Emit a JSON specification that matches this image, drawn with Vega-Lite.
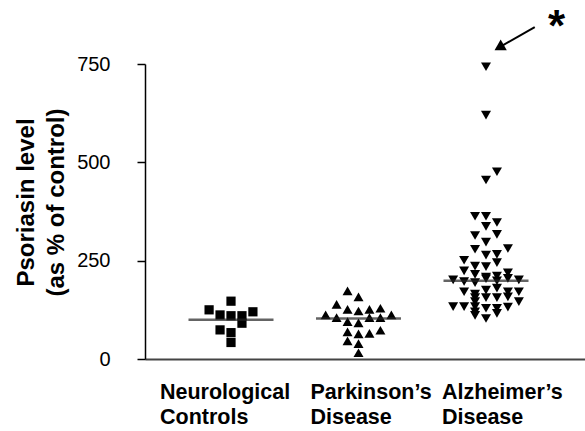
{
  "$schema": "https://vega.github.io/schema/vega-lite/v6.json",
  "width": 440,
  "height": 295,
  "autosize": {"type": "none"},
  "padding": {"left": 145, "top": 64, "right": 0, "bottom": 72},
  "config": {"font": "Liberation Sans", "view": {"stroke": null}},
  "encoding": {
    "x": {
      "field": "group", "type": "nominal", "title": null,
      "scale": {"domain": ["Neurological Controls", "Parkinson’s Disease", "Alzheimer’s Disease"], "paddingInner": 0, "paddingOuter": 0.2255, "align": 0.387},
      "axis": {
        "labelAngle": 0, "ticks": false, "domainColor": "#444444", "domainWidth": 2,
        "labelExpr": "split(datum.value, ' ')", "labelFontSize": 21.5, "labelFontWeight": "bold",
        "labelColor": "black", "labelAlign": "left", "labelBaseline": "top", "labelPadding": 22, "labelLineHeight": 25,
        "labelOffset": {"condition": [
          {"test": "datum.value === 'Neurological Controls'", "value": -71},
          {"test": "datum.value === 'Parkinson’s Disease'", "value": -48}
        ], "value": -44}
      }
    },
    "y": {
      "field": "value", "type": "quantitative", "title": ["Psoriasin level", "(as % of control)"],
      "scale": {"domain": [0, 750], "nice": false, "zero": true},
      "axis": {
        "values": [0, 250, 500, 750], "grid": false, "domainColor": "black", "domainWidth": 1.5,
        "tickColor": "black", "tickWidth": 1.5, "tickSize": 8, "labelFontSize": 20, "labelColor": "black",
        "labelPadding": 27, "titleFontSize": 24, "titleFontWeight": "bold", "titleColor": "black",
        "titlePadding": 8, "titleLineHeight": 30, "titleY": 138
      }
    }
  },
  "layer": [
    {
      "data": {"values": [
        {"group": "Neurological Controls", "value": 147, "col": 0},
        {"group": "Neurological Controls", "value": 125, "col": -2},
        {"group": "Neurological Controls", "value": 112, "col": -1},
        {"group": "Neurological Controls", "value": 110, "col": 0},
        {"group": "Neurological Controls", "value": 110, "col": 1},
        {"group": "Neurological Controls", "value": 91, "col": 1},
        {"group": "Neurological Controls", "value": 120, "col": 2},
        {"group": "Neurological Controls", "value": 74, "col": -1},
        {"group": "Neurological Controls", "value": 67, "col": 0},
        {"group": "Neurological Controls", "value": 42, "col": 0}
      ]},
      "mark": {"type": "point", "shape": "square", "filled": true, "size": 85, "color": "black", "opacity": 1},
      "encoding": {"xOffset": {"field": "col", "type": "quantitative", "scale": {"domain": [-5.82, 5.82]}}}
    },
    {
      "data": {"values": [
        {"group": "Parkinson’s Disease", "value": 173, "col": -1},
        {"group": "Parkinson’s Disease", "value": 158, "col": 0},
        {"group": "Parkinson’s Disease", "value": 139, "col": -2},
        {"group": "Parkinson’s Disease", "value": 126, "col": -1},
        {"group": "Parkinson’s Disease", "value": 122, "col": 0},
        {"group": "Parkinson’s Disease", "value": 126, "col": 1},
        {"group": "Parkinson’s Disease", "value": 129, "col": 2},
        {"group": "Parkinson’s Disease", "value": 112, "col": -3},
        {"group": "Parkinson’s Disease", "value": 105, "col": -2},
        {"group": "Parkinson’s Disease", "value": 95, "col": -1},
        {"group": "Parkinson’s Disease", "value": 92, "col": 0},
        {"group": "Parkinson’s Disease", "value": 105, "col": 1},
        {"group": "Parkinson’s Disease", "value": 105, "col": 2},
        {"group": "Parkinson’s Disease", "value": 112, "col": 3},
        {"group": "Parkinson’s Disease", "value": 69, "col": -1},
        {"group": "Parkinson’s Disease", "value": 64, "col": 0},
        {"group": "Parkinson’s Disease", "value": 65, "col": 1},
        {"group": "Parkinson’s Disease", "value": 73, "col": 2},
        {"group": "Parkinson’s Disease", "value": 46, "col": -1},
        {"group": "Parkinson’s Disease", "value": 39, "col": 0},
        {"group": "Parkinson’s Disease", "value": 16, "col": 0}
      ]},
      "mark": {"type": "point", "shape": "triangle-up", "filled": true, "size": 100, "color": "black", "opacity": 1},
      "encoding": {"xOffset": {"field": "col", "type": "quantitative"}}
    },
    {
      "data": {"values": [
        {"group": "Alzheimer’s Disease", "value": 743, "col": 0},
        {"group": "Alzheimer’s Disease", "value": 620, "col": 0},
        {"group": "Alzheimer’s Disease", "value": 476, "col": 1},
        {"group": "Alzheimer’s Disease", "value": 455, "col": 0},
        {"group": "Alzheimer’s Disease", "value": 363, "col": -1},
        {"group": "Alzheimer’s Disease", "value": 363, "col": 0},
        {"group": "Alzheimer’s Disease", "value": 347, "col": 1},
        {"group": "Alzheimer’s Disease", "value": 337, "col": 0},
        {"group": "Alzheimer’s Disease", "value": 314, "col": -1},
        {"group": "Alzheimer’s Disease", "value": 317, "col": 1},
        {"group": "Alzheimer’s Disease", "value": 297, "col": 0},
        {"group": "Alzheimer’s Disease", "value": 279, "col": -1},
        {"group": "Alzheimer’s Disease", "value": 281, "col": 2},
        {"group": "Alzheimer’s Disease", "value": 264, "col": 0},
        {"group": "Alzheimer’s Disease", "value": 266, "col": 1},
        {"group": "Alzheimer’s Disease", "value": 251, "col": -2},
        {"group": "Alzheimer’s Disease", "value": 245, "col": 1},
        {"group": "Alzheimer’s Disease", "value": 236, "col": -1},
        {"group": "Alzheimer’s Disease", "value": 235, "col": 0},
        {"group": "Alzheimer’s Disease", "value": 224, "col": -2},
        {"group": "Alzheimer’s Disease", "value": 219, "col": 2},
        {"group": "Alzheimer’s Disease", "value": 215, "col": -1},
        {"group": "Alzheimer’s Disease", "value": 208, "col": 0},
        {"group": "Alzheimer’s Disease", "value": 211, "col": 1},
        {"group": "Alzheimer’s Disease", "value": 201, "col": -3},
        {"group": "Alzheimer’s Disease", "value": 197, "col": -2},
        {"group": "Alzheimer’s Disease", "value": 194, "col": -1},
        {"group": "Alzheimer’s Disease", "value": 204, "col": 0},
        {"group": "Alzheimer’s Disease", "value": 199, "col": 1},
        {"group": "Alzheimer’s Disease", "value": 205, "col": 2},
        {"group": "Alzheimer’s Disease", "value": 201, "col": 3},
        {"group": "Alzheimer’s Disease", "value": 171, "col": -2},
        {"group": "Alzheimer’s Disease", "value": 165, "col": -1},
        {"group": "Alzheimer’s Disease", "value": 175, "col": 0},
        {"group": "Alzheimer’s Disease", "value": 180, "col": 1},
        {"group": "Alzheimer’s Disease", "value": 171, "col": 2},
        {"group": "Alzheimer’s Disease", "value": 171, "col": 3},
        {"group": "Alzheimer’s Disease", "value": 133, "col": -3},
        {"group": "Alzheimer’s Disease", "value": 133, "col": -2},
        {"group": "Alzheimer’s Disease", "value": 156, "col": -1},
        {"group": "Alzheimer’s Disease", "value": 146, "col": -1},
        {"group": "Alzheimer’s Disease", "value": 133, "col": -1},
        {"group": "Alzheimer’s Disease", "value": 120, "col": -1},
        {"group": "Alzheimer’s Disease", "value": 111, "col": -1},
        {"group": "Alzheimer’s Disease", "value": 156, "col": 0},
        {"group": "Alzheimer’s Disease", "value": 129, "col": 0},
        {"group": "Alzheimer’s Disease", "value": 103, "col": 0},
        {"group": "Alzheimer’s Disease", "value": 156, "col": 1},
        {"group": "Alzheimer’s Disease", "value": 129, "col": 1},
        {"group": "Alzheimer’s Disease", "value": 116, "col": 1},
        {"group": "Alzheimer’s Disease", "value": 158, "col": 2},
        {"group": "Alzheimer’s Disease", "value": 132, "col": 2},
        {"group": "Alzheimer’s Disease", "value": 146, "col": 3}
      ]},
      "mark": {"type": "point", "shape": "triangle-down", "filled": true, "size": 100, "color": "black", "opacity": 1},
      "encoding": {"xOffset": {"field": "col", "type": "quantitative"}}
    },
    {
      "data": {"values": [
        {"group": "Neurological Controls", "value": 100},
        {"group": "Parkinson’s Disease", "value": 103},
        {"group": "Alzheimer’s Disease", "value": 199}
      ]},
      "mark": {"type": "tick", "size": 85, "thickness": 2.5, "color": "#222222"}
    },
    {
      "data": {"values": [
        {"group": "Alzheimer’s Disease", "value": 844, "col": 4.45},
        {"group": "Alzheimer’s Disease", "value": 793, "col": 1.25}
      ]},
      "mark": {"type": "line", "color": "black", "strokeWidth": 2},
      "encoding": {"xOffset": {"field": "col", "type": "quantitative"}}
    },
    {
      "data": {"values": [
        {"group": "Alzheimer’s Disease", "value": 792, "col": 1.2}
      ]},
      "mark": {"type": "point", "shape": "triangle-up", "filled": true, "size": 150, "angle": 240, "color": "black", "opacity": 1},
      "encoding": {"xOffset": {"field": "col", "type": "quantitative"}}
    },
    {
      "data": {"values": [
        {"group": "Alzheimer’s Disease", "value": 842, "col": 6.45, "label": "*"}
      ]},
      "mark": {"type": "text", "fontSize": 44, "fontWeight": "bold", "baseline": "middle", "align": "center", "color": "black"},
      "encoding": {"xOffset": {"field": "col", "type": "quantitative"}, "text": {"field": "label"}}
    }
  ]
}
